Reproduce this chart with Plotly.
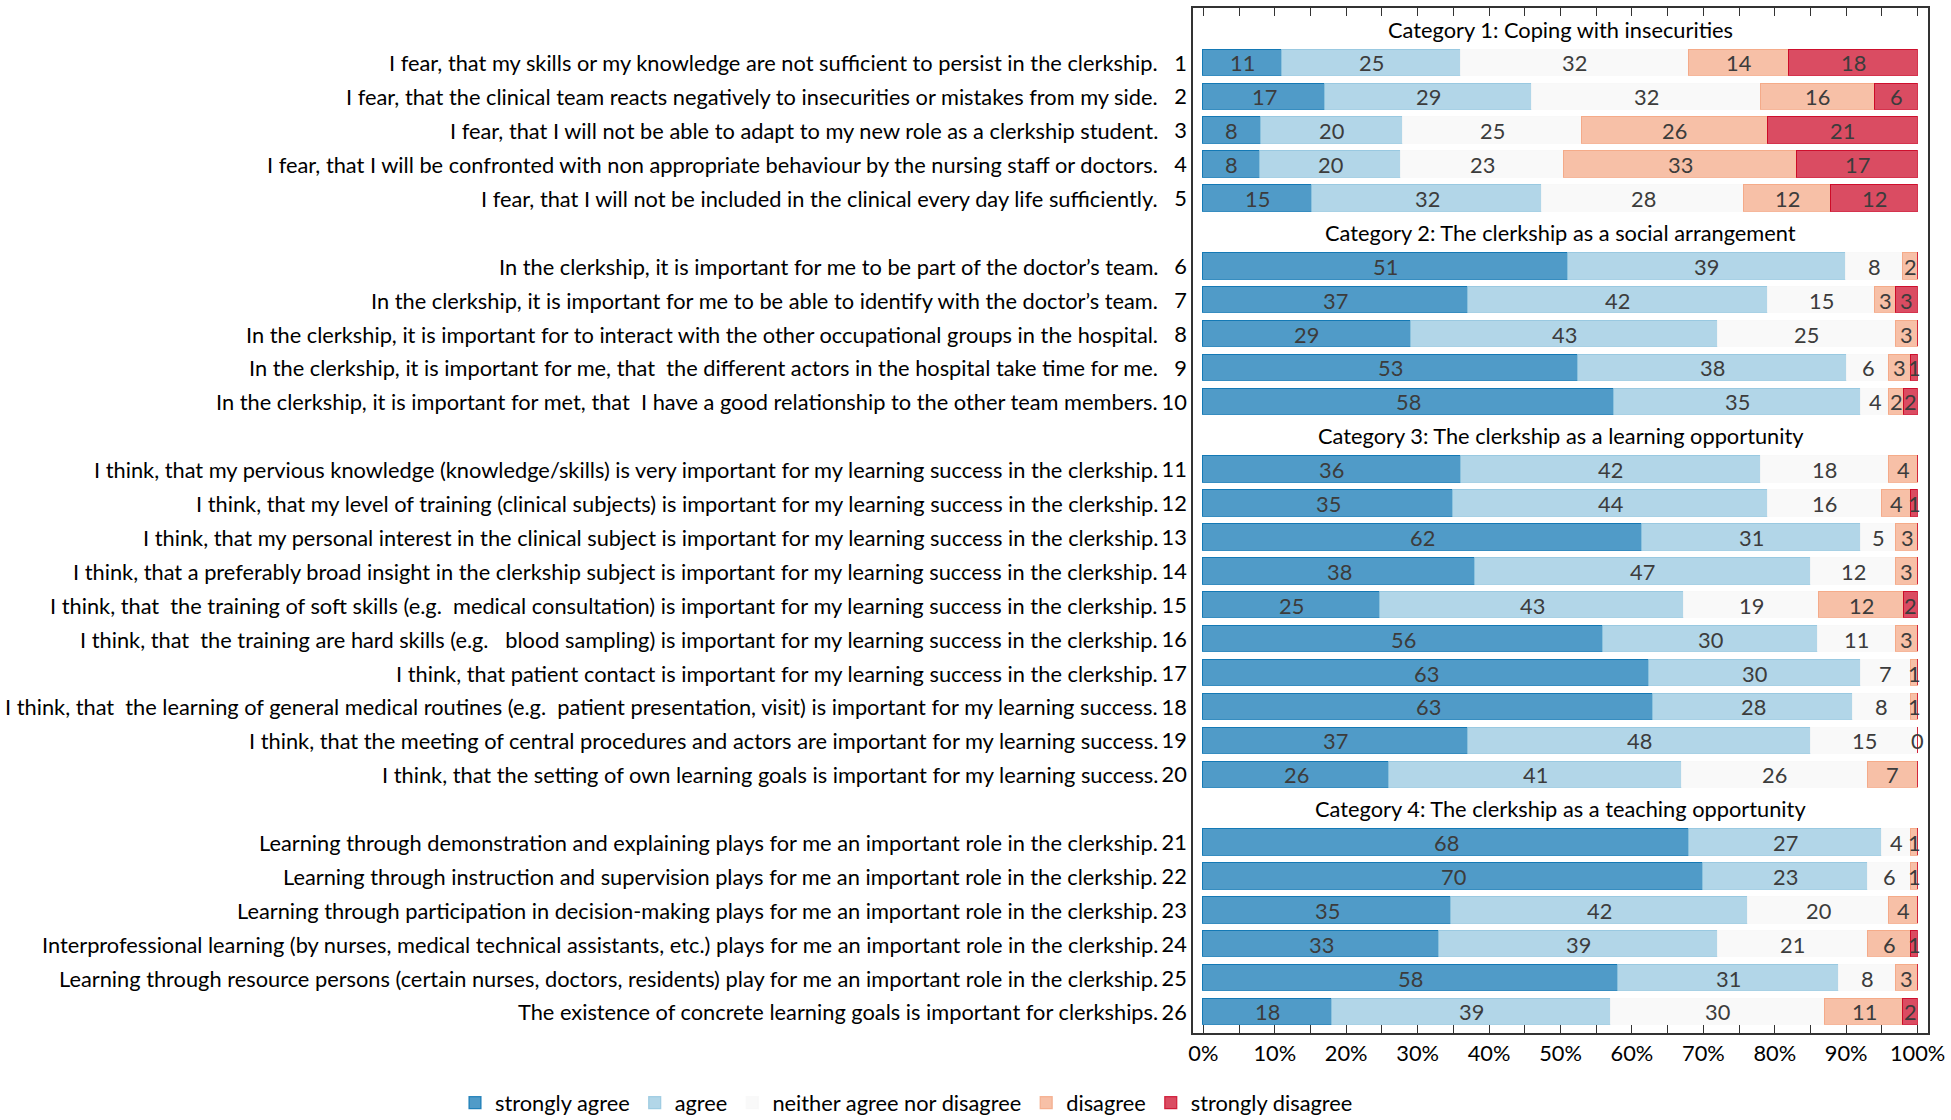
import plotly.graph_objects as go

# ---------------- data ----------------
categories = [
    "Category 1: Coping with insecurities",
    "Category 2: The clerkship as a social arrangement",
    "Category 3: The clerkship as a learning opportunity",
    "Category 4: The clerkship as a teaching opportunity",
]
items_per_category = [5, 5, 10, 6]

statements = [
    "I fear, that my skills or my knowledge are not sufficient to persist in the clerkship.",
    "I fear, that the clinical team reacts negatively to insecurities or mistakes from my side.",
    "I fear, that I will not be able to adapt to my new role as a clerkship student.",
    "I fear, that I will be confronted with non appropriate behaviour by the nursing staff or doctors.",
    "I fear, that I will not be included in the clinical every day life sufficiently.",
    "In the clerkship, it is important for me to be part of the doctor\u2019s team.",
    "In the clerkship, it is important for me to be able to identify with the doctor\u2019s team.",
    "In the clerkship, it is important for to interact with the other occupational groups in the hospital.",
    "In the clerkship, it is important for me, that \u00a0the different actors in the hospital take time for me.",
    "In the clerkship, it is important for met, that \u00a0I have a good relationship to the other team members.",
    "I think, that my pervious knowledge (knowledge/skills) is very important for my learning success in the clerkship.",
    "I think, that my level of training (clinical subjects) is important for my learning success in the clerkship.",
    "I think, that my personal interest in the clinical subject is important for my learning success in the clerkship.",
    "I think, that a preferably broad insight in the clerkship subject is important for my learning success in the clerkship.",
    "I think, that \u00a0the training of soft skills (e.g. \u00a0medical consultation) is important for my learning success in the clerkship.",
    "I think, that \u00a0the training are hard skills (e.g. \u00a0 blood sampling) is important for my learning success in the clerkship.",
    "I think, that patient contact is important for my learning success in the clerkship.",
    "I think, that \u00a0the learning of general medical routines (e.g. \u00a0patient presentation, visit) is important for my learning success.",
    "I think, that the meeting of central procedures and actors are important for my learning success.",
    "I think, that the setting of own learning goals is important for my learning success.",
    "Learning through demonstration and explaining plays for me an important role in the clerkship.",
    "Learning through instruction and supervision plays for me an important role in the clerkship.",
    "Learning through participation in decision-making plays for me an important role in the clerkship.",
    "Interprofessional learning (by nurses, medical technical assistants, etc.) plays for me an important role in the clerkship.",
    "Learning through resource persons (certain nurses, doctors, residents) play for me an important role in the clerkship.",
    "The existence of concrete learning goals is important for clerkships.",
]
item_numbers = [str(i) for i in range(1, 27)]

series_names = ["strongly agree", "agree", "neither agree nor disagree", "disagree", "strongly disagree"]
strongly_agree = [11, 17, 8, 8, 15, 51, 37, 29, 53, 58, 36, 35, 62, 38, 25, 56, 63, 63, 37, 26, 68, 70, 35, 33, 58, 18]
agree = [25, 29, 20, 20, 32, 39, 42, 43, 38, 35, 42, 44, 31, 47, 43, 30, 30, 28, 48, 41, 27, 23, 42, 39, 31, 39]
neither = [32, 32, 25, 23, 28, 8, 15, 25, 6, 4, 18, 16, 5, 12, 19, 11, 7, 8, 15, 26, 4, 6, 20, 21, 8, 30]
disagree = [14, 16, 26, 33, 12, 2, 3, 3, 3, 2, 4, 4, 3, 3, 12, 3, 1, 1, 0, 7, 1, 1, 4, 6, 3, 11]
strongly_disagree = [18, 6, 21, 17, 12, None, 3, None, 1, 2, None, 1, None, None, 2, None, None, None, None, None,
                     None, None, None, 1, None, 2]

x_tick_values = [0, 10, 20, 30, 40, 50, 60, 70, 80, 90, 100]
x_tick_labels = [f"{v}%" for v in x_tick_values]

# ---------------- styling ----------------
base_rgb = [(5, 113, 176), (146, 197, 222), (247, 247, 247), (244, 165, 130), (202, 0, 32)]
FONT = "Lato"
FS = 21.8
W, H = 1951, 1120
PL, PR, PT, PB = 1193, 1928, 8, 1033  # plot area in px

series = [strongly_agree, agree, neither, disagree, strongly_disagree]

# slot positions: one slot per category title, followed by its items
title_slots, item_slots = [], []
slot = 0
for n in items_per_category:
    title_slots.append(slot)
    slot += 1
    for _ in range(n):
        item_slots.append(slot)
        slot += 1
n_slots = slot

# normalise each row to 100 %
totals = [sum(s[i] or 0 for s in series) for i in range(len(item_slots))]
widths = [[(s[i] or 0) / totals[i] * 100 for i in range(len(item_slots))] for s in series]

fig = go.Figure()
for k, name in enumerate(series_names):
    r, g, b = base_rgb[k]
    fig.add_trace(go.Bar(
        name=name,
        orientation="h",
        y=item_slots,
        x=widths[k],
        width=0.78,
        marker=dict(color=f"rgba({r},{g},{b},0.7)",
                    line=dict(color=f"rgba({r},{g},{b},0.8)", width=1.2)),
        hoverinfo="skip",
    ))

annotations = []
# value labels
cum = [0.0] * len(item_slots)
for k, s in enumerate(series):
    for i, v in enumerate(s):
        w = widths[k][i]
        if v is not None:
            annotations.append(dict(x=cum[i] + w / 2, y=item_slots[i], xref="x", yref="y",
                                    text=str(v), showarrow=False,
                                    font=dict(family=FONT, size=FS, color="#3c3c3c")))
        cum[i] += w

# category titles
for t, ys in zip(categories, title_slots):
    annotations.append(dict(x=50, y=ys, xref="x", yref="y", text=t, showarrow=False,
                            font=dict(family=FONT, size=FS, color="black")))

# statements (left column)
stmt_x = (1160 - PL) / (PR - PL)
for txt, ys in zip(statements, item_slots):
    annotations.append(dict(x=stmt_x, y=ys, xref="paper", yref="y", xanchor="right",
                            text=txt, showarrow=False,
                            font=dict(family=FONT, size=FS, color="black")))

pad = 0.62
fig.update_layout(
    width=W, height=H,
    margin=dict(l=PL, r=W - PR, t=PT, b=H - PB, pad=0, autoexpand=False),
    barmode="stack",
    bargap=0,
    plot_bgcolor="white",
    paper_bgcolor="white",
    font=dict(family=FONT, size=FS, color="black"),
    showlegend=True,
    legend=dict(orientation="h",
                x=(455 - PL) / (PR - PL), xanchor="left",
                y=-(1103 - PB) / (PB - PT), yanchor="middle", traceorder="normal",
                font=dict(family=FONT, size=FS, color="black"),
                itemwidth=30, tracegroupgap=0, bgcolor="rgba(0,0,0,0)"),
    annotations=annotations,
    xaxis=dict(range=[-1.45, 101.45], tickvals=x_tick_values, ticktext=x_tick_labels,
               ticks="inside", ticklen=8, tickwidth=1.2, tickcolor="#333",
               minor=dict(dtick=5, tick0=0, ticks="inside", ticklen=8, tickcolor="#333", tickwidth=1.2, showgrid=False),
               showgrid=False, zeroline=False, showline=True, linecolor="#333", linewidth=1.5,
               mirror="ticks", tickfont=dict(family=FONT, size=FS, color="black"), fixedrange=True),
    yaxis=dict(range=[n_slots - 1 + pad, -pad], tickvals=item_slots, ticktext=item_numbers,
               ticks="", showgrid=False, zeroline=False, showline=True, linecolor="#333", linewidth=1.5,
               mirror=True, tickfont=dict(family=FONT, size=FS, color="black"), fixedrange=True),
)

fig.write_html("out.html", config={"displayModeBar": False},
               post_script="document.body.style.margin='0';document.body.style.overflow='hidden';")
